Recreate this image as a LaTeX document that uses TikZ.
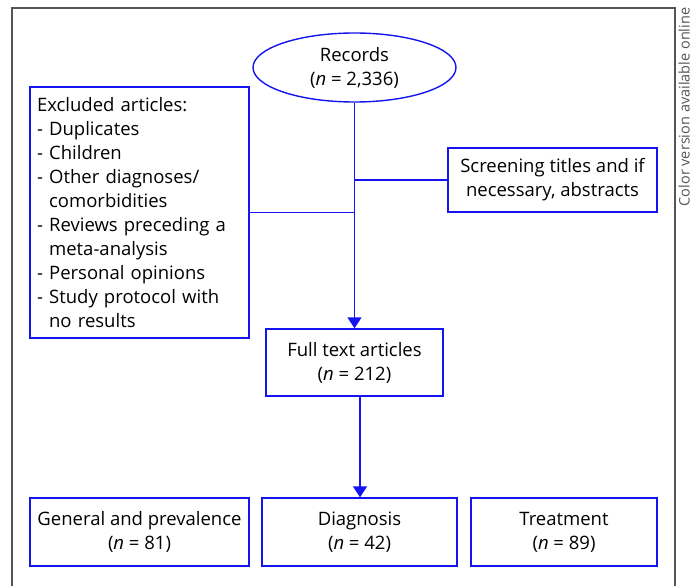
\documentclass[tikz,border=0pt]{standalone}
\usepackage{fontspec}
\setmainfont{Open Sans}
\usepackage{xcolor}
\usetikzlibrary{shapes.geometric,arrows.meta}
\definecolor{main}{HTML}{1414F0}
\definecolor{frame}{HTML}{555555}

\begin{document}
\begin{tikzpicture}[x=1pt,y=-1pt,
    box/.style={draw=main,line width=1.4pt,inner sep=0pt,align=center,font=\fontsize{18.5}{24}\selectfont},
    link/.style={draw=main,line width=1.4pt},
    arr/.style={link,-{Triangle[width=14pt,length=11pt]}}]

			\useasboundingbox (0,0) rectangle (692,586);
			\draw[frame,line width=1.2pt] (12,586) -- (12,8) -- (675,8) -- (675,586);
			\node[rotate=90,text=frame,font=\fontsize{14.5}{16}\selectfont,anchor=south,inner sep=0pt] (note) at (690,107) {Color version available online};

			\node[box,ellipse,minimum width=203pt,minimum height=69pt] (records) at (354.5,67.5) {Records\\(\textit{n} = 2,336)};
			\node[box,minimum width=219pt,minimum height=251pt,text width=205pt,align=left] (excluded) at (139.5,212.5) {Excluded articles:\\- Duplicates\\- Children\\- Other diagnoses/\\\phantom{- }comorbidities\\- Reviews preceding a\\\phantom{- }meta-analysis\\- Personal opinions\\- Study protocol with\\\phantom{- }no results};
			\node[box,minimum width=209pt,minimum height=64pt] (screening) at (552.5,180) {Screening titles and if\\necessary, abstracts};
			\node[box,minimum width=177pt,minimum height=67pt] (fulltext) at (354.5,362.5) {Full text articles\\(\textit{n} = 212)};
			\node[box,minimum width=219pt,minimum height=68pt] (general) at (139.5,532) {General and prevalence\\(\textit{n} = 81)};
			\node[box,minimum width=195pt,minimum height=68pt] (diagnosis) at (359.5,532) {Diagnosis\\(\textit{n} = 42)};
			\node[box,minimum width=186pt,minimum height=68pt] (treatment) at (564,532) {Treatment\\(\textit{n} = 89)};

			\coordinate (split) at (360,396);
			\draw[arr] (records.south) -- (fulltext.north);
			\draw[link] (records.south |- screening.west) -- (screening.west);
			\draw[link] (excluded.east) -- (excluded.east -| records.south);
			\draw[arr] (split) -- (split |- diagnosis.north);

\end{tikzpicture}
\end{document}
